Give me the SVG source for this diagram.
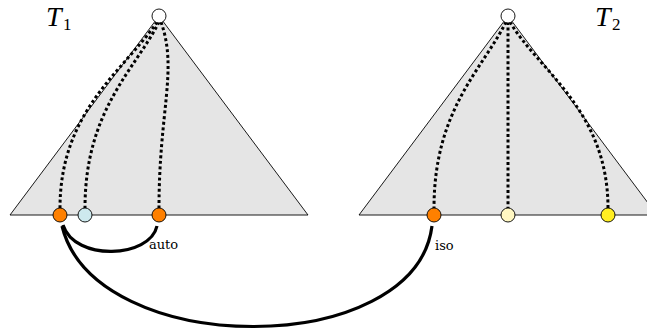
<svg xmlns="http://www.w3.org/2000/svg" width="647" height="330" viewBox="0 0 647 330">
<style>
.tri{fill:#e5e5e5;stroke:#000;stroke-width:0.9}
.dot{fill:none;stroke:#000;stroke-width:3;stroke-dasharray:3 2.6}
.arc{fill:none;stroke:#000;stroke-width:3.2}
.node{stroke:#000;stroke-width:0.9}
.lbl{font-family:"DejaVu Serif",serif;font-size:13px;fill:#000}
.title{font-family:"Liberation Serif",serif;font-style:italic;font-size:28px;fill:#000}
.sub{font-family:"Liberation Serif",serif;font-size:17px;fill:#000}
</style>
<g id="tree1">
<polygon class="tri" points="159,16 10,215 308,215"/>
</g>
<g id="tree2">
<polygon class="tri" points="508,16 359,215 657,215"/>
</g>
<g id="connectors">
<path class="dot" d="M157,22 C 125,70 60,110 60,208"/>
<path class="dot" d="M159,22 C 135,70 85,110 85,208"/>
<path class="dot" d="M161,22 C 178,70 159,110 159,208"/>
<path class="dot" d="M506,22 C 482,70 434,110 434,208"/>
<path class="dot" d="M508,22 L 508,208"/>
<path class="dot" d="M510,22 C 538,70 608,110 608,208"/>
<path class="arc" d="M63,225 C 75,262 150,258 157,226"/>
<path class="arc" d="M62,226 C 95,360 415,360 432,226"/>
</g>
<g id="root1"><circle class="node" cx="159" cy="16" r="7" fill="#fff"/></g>
<g id="root2"><circle class="node" cx="508" cy="16" r="7" fill="#fff"/></g>
<g id="leaf1a"><circle class="node" cx="60" cy="215" r="7" fill="#ff8000"/></g>
<g id="leaf1b"><circle class="node" cx="85" cy="215" r="7" fill="#cde9ee"/></g>
<g id="leaf1c"><circle class="node" cx="159" cy="215" r="7" fill="#ff8000"/></g>
<g id="leaf2a"><circle class="node" cx="434" cy="215" r="7" fill="#ff8000"/></g>
<g id="leaf2b"><circle class="node" cx="508" cy="215" r="7" fill="#fff7c2"/></g>
<g id="leaf2c"><circle class="node" cx="608" cy="215" r="7" fill="#ffee22"/></g>
<text class="lbl" x="149" y="249">auto</text>
<text class="lbl" x="435" y="250">iso</text>
<text class="title" x="46" y="26">T<tspan class="sub" font-style="normal" x="63" dy="4">1</tspan></text>
<text class="title" x="595" y="26">T<tspan class="sub" font-style="normal" x="612" dy="4">2</tspan></text>
</svg>
